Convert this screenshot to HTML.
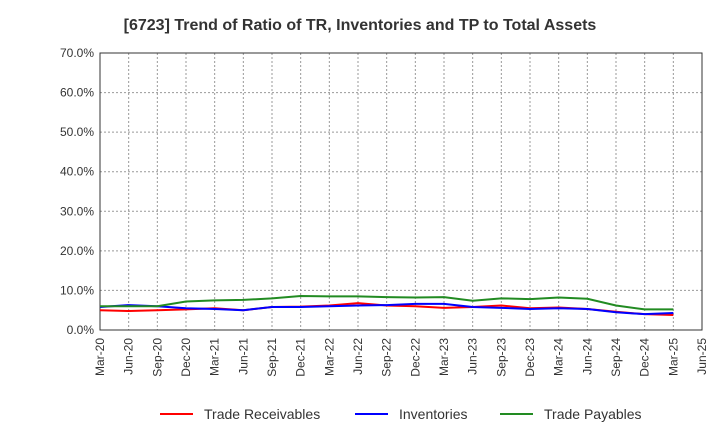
<!DOCTYPE html>
<html><head><meta charset="utf-8"><style>
body{margin:0;background:#fff;font-family:"Liberation Sans",sans-serif;}
</style></head><body>
<svg id="c" width="720" height="440" xmlns="http://www.w3.org/2000/svg">
<text x="360" y="30" text-anchor="middle" font-size="16" font-weight="bold" fill="#333">[6723]  Trend of Ratio of TR, Inventories and TP to Total Assets</text>
<g id="grid"></g><g id="ax"></g><g id="series"></g><g id="legend"></g>
</svg>
<script>
const categories=["Mar-20","Jun-20","Sep-20","Dec-20","Mar-21","Jun-21","Sep-21","Dec-21","Mar-22","Jun-22","Sep-22","Dec-22","Mar-23","Jun-23","Sep-23","Dec-23","Mar-24","Jun-24","Sep-24","Dec-24","Mar-25","Jun-25"];
const tradeReceivables=[5.0,4.8,5.0,5.2,5.5,5.0,5.8,5.9,6.2,6.8,6.2,6.0,5.6,5.8,6.2,5.5,5.7,5.3,4.6,4.0,3.8];
const inventories=[5.8,6.3,6.0,5.5,5.3,5.0,5.8,5.8,6.0,6.2,6.3,6.6,6.6,5.8,5.6,5.3,5.5,5.3,4.5,4.0,4.3];
const tradePayables=[6.0,6.0,6.0,7.2,7.5,7.6,8.0,8.6,8.5,8.5,8.3,8.2,8.3,7.4,8.0,7.8,8.2,7.9,6.2,5.2,5.2];
const yTicks=[0,10,20,30,40,50,60,70];
const NS="http://www.w3.org/2000/svg";
const L=100,R=702,T=53,B=330;
const x=i=>L+(R-L)*i/(categories.length-1);
const y=v=>B-(B-T)*v/70;
function mk(p,tag,at){const e=document.createElementNS(NS,tag);for(const k in at)e.setAttribute(k,at[k]);p.appendChild(e);return e;}
const grid=document.getElementById('grid'),ax=document.getElementById('ax'),ser=document.getElementById('series'),lg=document.getElementById('legend');
categories.forEach((c,i)=>{
 const l=mk(grid,'line',{x1:x(i),x2:x(i),y1:T,y2:B,stroke:'#999','stroke-dasharray':'2,2'});
 
 
 const t=mk(ax,'text',{x:x(i)+4,y:B+8,'font-size':12,fill:'#333','text-anchor':'end',transform:`rotate(-90 ${x(i)+4} ${B+8})`});
 t.textContent=c;
 
 
});
yTicks.forEach(v=>{
 const l=mk(grid,'line',{x1:L,x2:R,y1:y(v),y2:y(v),stroke:'#999','stroke-dasharray':'2,2'});
 
 
 const t=mk(ax,'text',{x:L-6,y:y(v)+4,'font-size':12,fill:'#333','text-anchor':'end'});
 t.textContent=v.toFixed(1)+'%';
 
 
});
const fr=mk(ax,'rect',{x:L,y:T,width:R-L,height:B-T,fill:'none',stroke:'#333'});


const S=[["trade-receivables",tradeReceivables,"#ff0000","Trade Receivables",160],["inventories",inventories,"#0000ff","Inventories",355],["trade-payables",tradePayables,"#228b22","Trade Payables",500]];
S.forEach(([n,d,col,lab,lx])=>{
 const p=mk(ser,'polyline',{points:d.map((v,i)=>x(i)+','+y(v)).join(' '),fill:'none',stroke:col,'stroke-width':2});
 
 
 const g=mk(lg,'g',{});
 
 
 mk(g,'line',{x1:lx,x2:lx+33,y1:414,y2:414,stroke:col,'stroke-width':2});
 const t=mk(g,'text',{x:lx+44,y:419,'font-size':14,fill:'#333'});t.textContent=lab;
});
</script>
</body></html>
